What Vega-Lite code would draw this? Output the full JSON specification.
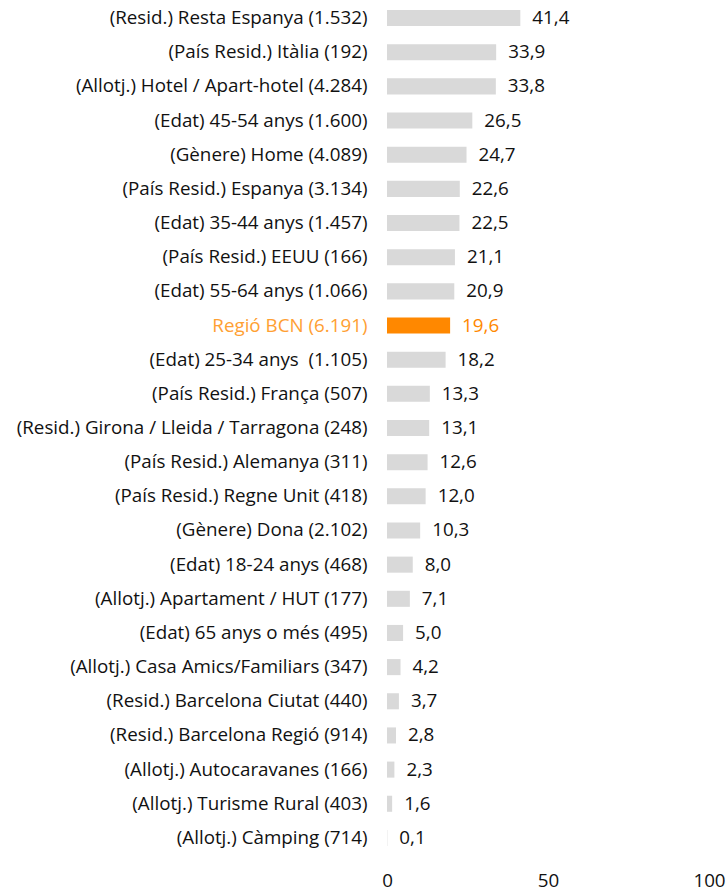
{
  "$schema": "https://vega.github.io/schema/vega-lite/v6.json",
  "autosize": "none",
  "width": 322,
  "height": 854,
  "padding": {"left": 387, "top": 1, "right": 19, "bottom": 36},
  "background": "white",
  "config": {
    "view": {"stroke": null},
    "font": "Open Sans",
    "locale": {"number": {"decimal": ",", "thousands": ".", "grouping": [3], "currency": ["", " €"]}}
  },
  "data": {
    "values": [
      {"cat": "(Resid.) Resta Espanya (1.532)", "v": 41.4, "hl": false},
      {"cat": "(País Resid.) Itàlia (192)", "v": 33.9, "hl": false},
      {"cat": "(Allotj.) Hotel / Apart-hotel (4.284)", "v": 33.8, "hl": false},
      {"cat": "(Edat) 45-54 anys (1.600)", "v": 26.5, "hl": false},
      {"cat": "(Gènere) Home (4.089)", "v": 24.7, "hl": false},
      {"cat": "(País Resid.) Espanya (3.134)", "v": 22.6, "hl": false},
      {"cat": "(Edat) 35-44 anys (1.457)", "v": 22.5, "hl": false},
      {"cat": "(País Resid.) EEUU (166)", "v": 21.1, "hl": false},
      {"cat": "(Edat) 55-64 anys (1.066)", "v": 20.9, "hl": false},
      {"cat": "Regió BCN (6.191)", "v": 19.6, "hl": true},
      {"cat": "(Edat) 25-34 anys \u00a0(1.105)", "v": 18.2, "hl": false},
      {"cat": "(País Resid.) França (507)", "v": 13.3, "hl": false},
      {"cat": "(Resid.) Girona / Lleida / Tarragona (248)", "v": 13.1, "hl": false},
      {"cat": "(País Resid.) Alemanya (311)", "v": 12.6, "hl": false},
      {"cat": "(País Resid.) Regne Unit (418)", "v": 12.0, "hl": false},
      {"cat": "(Gènere) Dona (2.102)", "v": 10.3, "hl": false},
      {"cat": "(Edat) 18-24 anys (468)", "v": 8.0, "hl": false},
      {"cat": "(Allotj.) Apartament / HUT (177)", "v": 7.1, "hl": false},
      {"cat": "(Edat) 65 anys o més (495)", "v": 5.0, "hl": false},
      {"cat": "(Allotj.) Casa Amics/Familiars (347)", "v": 4.2, "hl": false},
      {"cat": "(Resid.) Barcelona Ciutat (440)", "v": 3.7, "hl": false},
      {"cat": "(Resid.) Barcelona Regió (914)", "v": 2.8, "hl": false},
      {"cat": "(Allotj.) Autocaravanes (166)", "v": 2.3, "hl": false},
      {"cat": "(Allotj.) Turisme Rural (403)", "v": 1.6, "hl": false},
      {"cat": "(Allotj.) Càmping (714)", "v": 0.1, "hl": false}
    ]
  },
  "encoding": {
    "y": {
      "field": "cat",
      "type": "nominal",
      "sort": null,
      "scale": {"paddingInner": 0.53, "paddingOuter": 0.265},
      "axis": {
        "title": null,
        "ticks": false,
        "domain": false,
        "labelPadding": 20,
        "labelFontSize": 18.8,
        "labelFont": "Open Sans",
        "labelLimit": 400,
        "labelColor": {"condition": {"test": "datum.label === 'Regió BCN (6.191)'", "value": "#FFA033"}, "value": "#111111"}
      }
    },
    "x": {
      "field": "v",
      "type": "quantitative",
      "scale": {"domain": [0, 100]},
      "axis": {
        "title": null,
        "values": [0, 50, 100],
        "grid": false,
        "ticks": false,
        "domain": false,
        "labelPadding": 16,
        "labelFontSize": 18.8,
        "labelFont": "Open Sans",
        "labelColor": "#111111",
        "labelFlush": false
      }
    }
  },
  "layer": [
    {
      "mark": {"type": "bar"},
      "encoding": {
        "color": {"condition": {"test": "datum.hl", "value": "#FF8800"}, "value": "#D9D9D9"}
      }
    },
    {
      "mark": {"type": "text", "align": "left", "baseline": "middle", "dx": 12, "fontSize": 18.8, "font": "Open Sans"},
      "encoding": {
        "text": {"field": "v", "type": "quantitative", "format": ".1f"},
        "color": {"condition": {"test": "datum.hl", "value": "#FF8800"}, "value": "#111111"}
      }
    }
  ]
}
